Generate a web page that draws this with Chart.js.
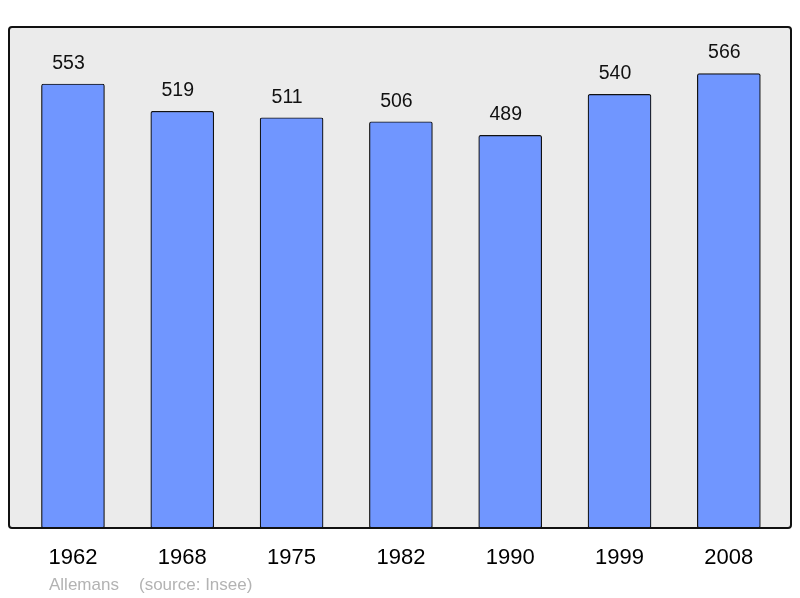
<!DOCTYPE html>
<html>
<head>
<meta charset="utf-8">
<script src="https://cdn.jsdelivr.net/npm/chart.js@4/dist/chart.umd.min.js"></script>
<style>
  html, body { margin: 0; padding: 0; background: #fff; }
  #wrap { width: 800px; height: 598px; }
</style>
</head>
<body>
<div id="wrap"><canvas id="pop"></canvas></div>
<script>
var years = ['1962', '1968', '1975', '1982', '1990', '1999', '2008'];
var population = [553, 519, 511, 506, 489, 540, 566];
var commune = 'Allemans';
var source = '(source: Insee)';

// frame behind the plot, a bit wider than the chart area
var framePlugin = {
  id: 'frame',
  beforeDatasetsDraw: function(chart) {
    var c = chart.ctx, a = chart.chartArea;
    c.save();
    c.fillStyle = '#ebebeb';
    c.beginPath();
    c.roundRect(9, a.top, 782, a.bottom - a.top, 3);
    c.fill();
    c.restore();
  },
  afterDatasetsDraw: function(chart) {
    var c = chart.ctx, a = chart.chartArea;
    c.save();
    c.strokeStyle = '#111';
    c.lineWidth = 2;
    c.beginPath();
    c.roundRect(9, a.top, 782, a.bottom - a.top, 3);
    c.stroke();

    // values over the bars
    var meta = chart.getDatasetMeta(0);
    c.fillStyle = '#111';
    c.font = '19.5px "Liberation Sans", Arial, sans-serif';
    c.textAlign = 'center';
    c.textBaseline = 'middle';
    meta.data.forEach(function(bar, i) {
      c.fillText(population[i], bar.x - 4.5, bar.y - 20.5);
    });

    // footer
    c.fillStyle = '#b3b3b3';
    c.font = '17px "Liberation Sans", Arial, sans-serif';
    c.textAlign = 'left';
    c.fillText(commune, 49, 585);
    c.fillText(source, 139, 585);
    c.restore();
  }
};

new Chart(document.getElementById('pop'), {
  type: 'bar',
  data: {
    labels: years,
    datasets: [{
      data: population,
      backgroundColor: '#7096ff',
      borderColor: '#111',
      borderWidth: 1.2,
      borderSkipped: false,
      borderRadius: 2,
      barThickness: 63
    }]
  },
  options: {
    responsive: true,
    maintainAspectRatio: false,
    animation: false,
    layout: { padding: { top: 27, left: 18.3, right: 16.5, bottom: 0 } },
    plugins: { legend: { display: false }, tooltip: { enabled: false } },
    scales: {
      x: {
        grid: { display: false },
        border: { display: false },
        ticks: {
          color: '#000',
          padding: 9,
          font: { family: '"Liberation Sans", Arial, sans-serif', size: 22 }
        },
        afterFit: function(s) { s.height = 70; }
      },
      y: {
        display: false,
        min: 0,
        max: 624
      }
    }
  },
  plugins: [framePlugin]
});
</script>
</body>
</html>
